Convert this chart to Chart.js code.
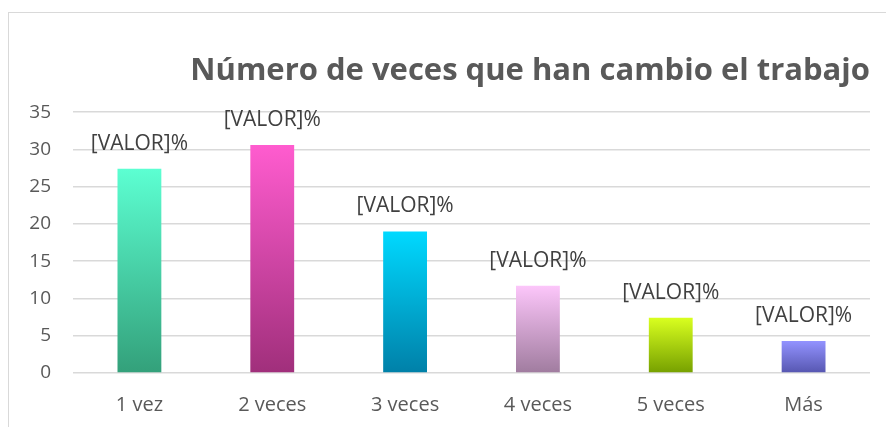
<!DOCTYPE html>
<html lang="es">
<head>
  <meta charset="UTF-8" />
  <title>Número de veces que han cambio el trabajo</title>
  <style>
    body {
      margin: 0;
      padding: 0;
      background: white;
      overflow: hidden;
    }

    .frame {
      position: absolute;
      left: 8px;
      top: 12px;
      width: 900px;
      height: 440px;
      border: 1px solid #d9d9d9;
    }

    .chart-box {
      position: absolute;
      left: 0;
      top: 0;
      width: 886px;
      height: 427px;
    }
  </style>
</head>
<body>

<div class="frame"></div>
<div class="chart-box">
  <canvas id="chart"></canvas>
</div>

<script src="https://cdn.jsdelivr.net/npm/chart.js"></script>
<script>
const categories = ['1 vez', '2 veces', '3 veces', '4 veces', '5 veces', 'Más'];
const values = [27.4, 30.6, 19.0, 11.7, 7.4, 4.3];
const labelText = ['[VALOR]%', '[VALOR]%', '[VALOR]%', '[VALOR]%', '[VALOR]%', '[VALOR]%'];
const topColors = ['#5cffd2', '#ff5ccf', '#00d9ff', '#fcc6fa', '#d9ff1f', '#9393ff'];
const bottomColors = ['#33a07a', '#a02f7b', '#0080a8', '#a07c9f', '#76a000', '#5656b0'];
const yTicks = [0, 5, 10, 15, 20, 25, 30, 35];

const textGray = '#595959';

// gradient runs from the bar's base to its top, like the Excel fill
function barGradient(context) {
  const chart = context.chart;
  const area = chart.chartArea;
  if (!area) return topColors[context.dataIndex];
  const y = chart.scales.y;
  const i = context.dataIndex;
  const yTop = y.getPixelForValue(values[i]);
  const yBase = y.getPixelForValue(0);
  const g = chart.ctx.createLinearGradient(0, yBase, 0, yTop);
  g.addColorStop(0, bottomColors[i]);
  g.addColorStop(1, topColors[i]);
  return g;
}

const valueLabels = {
  id: 'valueLabels',
  afterDatasetsDraw(chart) {
    const ctx = chart.ctx;
    const meta = chart.getDatasetMeta(0);
    ctx.save();
    ctx.font = '21px "Open Sans", sans-serif';
    ctx.fillStyle = '#404040';
    ctx.textAlign = 'center';
    ctx.textBaseline = 'middle';
    meta.data.forEach((bar, i) => {
      ctx.fillText(labelText[i], bar.x, bar.y - 25);
    });
    ctx.restore();
  }
};

new Chart(document.getElementById('chart'), {
  type: 'bar',
  data: {
    labels: categories,
    datasets: [{
      data: values,
      backgroundColor: barGradient,
      borderWidth: 0,
      barPercentage: 0.33,
      categoryPercentage: 1
    }]
  },
  options: {
    responsive: true,
    maintainAspectRatio: false,
    animation: false,
    layout: {
      padding: { left: 0, right: 16, top: 0, bottom: 0 }
    },
    plugins: {
      legend: { display: false },
      tooltip: { enabled: false },
      title: {
        display: true,
        text: 'Número de veces que han cambio el trabajo',
        align: 'end',
        color: textGray,
        font: { family: '"Open Sans", sans-serif', size: 31, weight: 'bold' },
        padding: { top: 53, bottom: 22 }
      }
    },
    scales: {
      x: {
        afterFit(scale) {
          scale.height = 54;
        },
        grid: { display: false },
        border: { display: false },
        ticks: {
          color: textGray,
          font: { family: '"Open Sans", sans-serif', size: 20 },
          padding: 12
        }
      },
      y: {
        min: 0,
        max: 35,
        afterBuildTicks(scale) {
          scale.ticks = yTicks.map(v => ({ value: v }));
        },
        afterFit(scale) {
          scale.width = 73;
        },
        grid: { color: '#d9d9d9', lineWidth: 1.5, drawTicks: false },
        border: { display: false },
        ticks: {
          color: textGray,
          font: { family: '"Open Sans", sans-serif', size: 19 },
          padding: 22
        }
      }
    }
  },
  plugins: [valueLabels]
});
</script>
</body>
</html>
